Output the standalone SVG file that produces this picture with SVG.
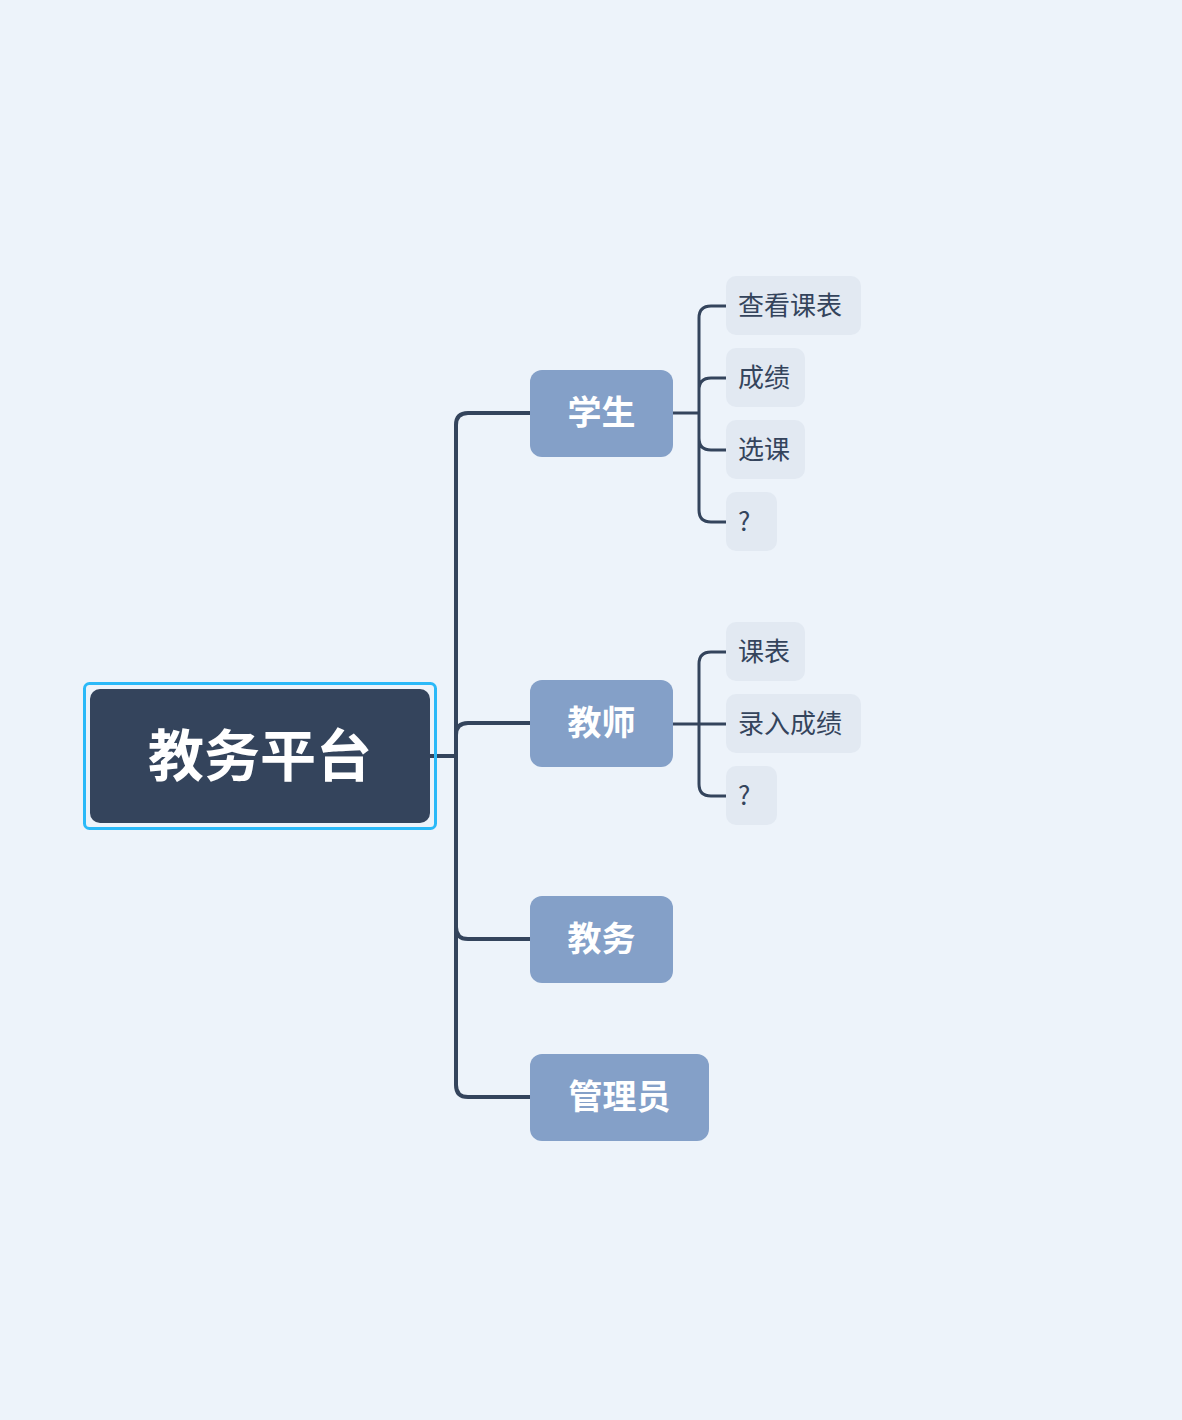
<svg xmlns="http://www.w3.org/2000/svg" width="1182" height="1420" viewBox="0 0 1182 1420">
<style>
.f{font-family:"Noto Sans CJK SC","Liberation Sans",sans-serif}
.m{fill:#84a0c8}
.mt{fill:#fff;font-size:34px;font-weight:bold;text-anchor:middle}
.l{fill:#e2e9f2}
.lt{fill:#34445c;font-size:26px}
.c{fill:none;stroke:#34445c;stroke-width:4}
.c2{fill:none;stroke:#34445c;stroke-width:3}
</style>
<rect width="1182" height="1420" fill="#edf3fa"/>
<g id="connectors">
<path class="c" d="M430 756H456M530 413H468Q456 413 456 425V1085Q456 1097 468 1097H530M456 735Q456 723 468 723H530M456 927Q456 939 468 939H530"/>
<path class="c2" d="M673 413H699M726 306H711Q699 306 699 318V510Q699 522 711 522H726M726 378H711Q699 378 699 390M699 438Q699 450 711 450H726"/>
<path class="c2" d="M673 724H726M726 652H711Q699 652 699 664V784Q699 796 711 796H726"/>
</g>
<g id="root">
<rect x="84.5" y="683.5" width="351" height="145" rx="5" fill="none" stroke="#2bb9f8" stroke-width="3"/>
<rect x="90" y="689" width="340" height="134" rx="10" fill="#34445c"/>
<text class="f" x="260" y="776" fill="#fff" font-size="56" font-weight="bold" text-anchor="middle">教务平台</text>
</g>
<g id="n1"><rect class="m" x="530" y="370" width="143" height="87" rx="12"/><text class="f mt" x="601.5" y="425">学生</text></g>
<g id="n2"><rect class="m" x="530" y="680" width="143" height="87" rx="12"/><text class="f mt" x="601.5" y="735">教师</text></g>
<g id="n3"><rect class="m" x="530" y="896" width="143" height="87" rx="12"/><text class="f mt" x="601.5" y="951">教务</text></g>
<g id="n4"><rect class="m" x="530" y="1054" width="179" height="87" rx="12"/><text class="f mt" x="619.5" y="1109">管理员</text></g>
<g id="l1"><rect class="l" x="726" y="276" width="135" height="59" rx="10"/><text class="f lt" x="738" y="315">查看课表</text></g>
<g id="l2"><rect class="l" x="726" y="348" width="79" height="59" rx="10"/><text class="f lt" x="738" y="387">成绩</text></g>
<g id="l3"><rect class="l" x="726" y="420" width="79" height="59" rx="10"/><text class="f lt" x="738" y="459">选课</text></g>
<g id="l4"><rect class="l" x="726" y="492" width="51" height="59" rx="10"/><text class="f lt" x="738" y="531">?</text></g>
<g id="l5"><rect class="l" x="726" y="622" width="79" height="59" rx="10"/><text class="f lt" x="738" y="661">课表</text></g>
<g id="l6"><rect class="l" x="726" y="694" width="135" height="59" rx="10"/><text class="f lt" x="738" y="733">录入成绩</text></g>
<g id="l7"><rect class="l" x="726" y="766" width="51" height="59" rx="10"/><text class="f lt" x="738" y="805">?</text></g>
</svg>
